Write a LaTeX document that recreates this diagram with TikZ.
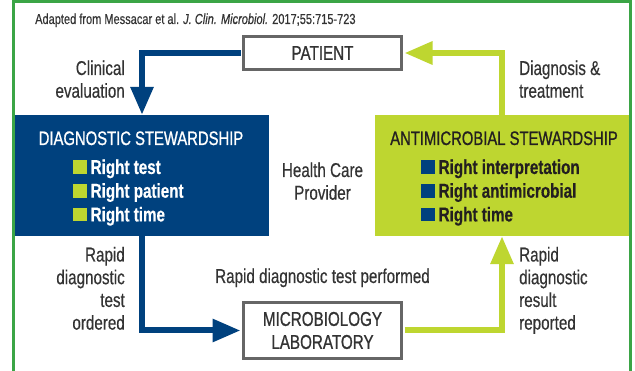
\documentclass[tikz,border=0pt]{standalone}
\usepackage{fontspec}
\setmainfont[FakeStretch=0.76,FakeBold=0.35]{Liberation Sans}
\newfontfamily\medfont[FakeStretch=0.76,FakeBold=0.9]{Liberation Sans}
\usetikzlibrary{arrows.meta}
\definecolor{dsblue}{HTML}{00417E}
\definecolor{asgreen}{HTML}{BED630}
\definecolor{framegreen}{HTML}{3BA546}
\definecolor{boxgray}{HTML}{666666}
\definecolor{txt}{HTML}{333333}
\definecolor{dark}{HTML}{231F20}
\newcommand{\bsq}[1]{\textcolor{#1}{\rule{14pt}{13.5pt}}\hspace{3.5pt}}
\begin{document}
\begin{tikzpicture}[x=1pt,y=-1pt,
  lbl/.style={font=\fontsize{20}{22.7}\selectfont, text=txt, inner sep=0pt},
  stbox/.style={minimum width=254pt, minimum height=121pt, inner sep=0pt},
  title/.style={font=\medfont\fontsize{19.5}{22}\selectfont, inner sep=0pt, anchor=base},
  blist/.style={font=\bfseries\fontsize{20}{23.7}\selectfont, inner sep=0pt, align=left, anchor=base west},
  graybox/.style={draw=boxgray, line width=3pt, fill=white, minimum width=158pt, inner sep=0pt, text=txt, font=\medfont\fontsize{20}{23}\selectfont, align=center},
  bluearrow/.style={draw=dsblue, line width=6pt, -{Triangle[width=22pt,length=28pt]}},
  greenarrow/.style={draw=asgreen, line width=6pt, -{Triangle[width=22pt,length=28pt]}},
]
\useasboundingbox (0,0) rectangle (635,371);
\fill[white] (0,0) rectangle (635,371);

% boxes
\node[stbox, fill=dsblue] (diag) at (142,175.5) {};
\node[stbox, fill=asgreen] (anti) at (502,175.5) {};
\node[graybox, minimum height=33pt] (patient) at (322.5,53) {PATIENT};
\node[graybox, minimum height=56pt] (lab) at (322.5,330.5) {MICROBIOLOGY\\LABORATORY};

% connectors
\draw[bluearrow, shorten <=1.5pt] (patient.west) -| (diag.north);
\draw[bluearrow] (diag.south) |- ([xshift=-1.5pt]lab.west);
\draw[greenarrow, shorten <=1.5pt] (lab.east) -| (anti.south);
\draw[greenarrow] (anti.north) |- ([xshift=1.5pt]patient.east);

% frame
\draw[framegreen, line width=3pt] (13.5,371) -- (13.5,1.5) -- (630.5,1.5) -- (630.5,371);

% box contents
\node[title, text=white] (diagtitle) at (141,145) {DIAGNOSTIC STEWARDSHIP};
\node[blist, text=white] (diaglist) at (73,221.4) {\bsq{asgreen}Right test\\\bsq{asgreen}Right patient\\\bsq{asgreen}Right time};
\node[title, text=dark] (antititle) at (504,145) {ANTIMICROBIAL STEWARDSHIP};
\node[blist, text=dark] (antilist) at (421,221.4) {\bsq{dsblue}Right interpretation\\\bsq{dsblue}Right antimicrobial\\\bsq{dsblue}Right time};

% labels
\node[lbl, font=\fontsize{14.5}{17}\selectfont, anchor=base west] (cite) at (35,24) {Adapted from Messacar et al. \textit{J. Clin. Microbiol.} 2017;55:715-723};
\node[lbl, align=right, anchor=base east] (clin) at (125,97.7) {Clinical\\evaluation};
\node[lbl, align=left, anchor=base west] (dxtx) at (519,97.7) {Diagnosis \&\\treatment};
\node[lbl, align=center, anchor=base] (hcp) at (322.5,199.7) {Health Care\\Provider};
\node[lbl, align=right, anchor=base east] (ordered) at (125,329.6) {Rapid\\diagnostic\\test\\ordered};
\node[lbl, anchor=base] (performed) at (322.5,283) {Rapid diagnostic test performed};
\node[lbl, align=left, anchor=base west] (reported) at (519,329.6) {Rapid\\diagnostic\\result\\reported};
\end{tikzpicture}
\end{document}
